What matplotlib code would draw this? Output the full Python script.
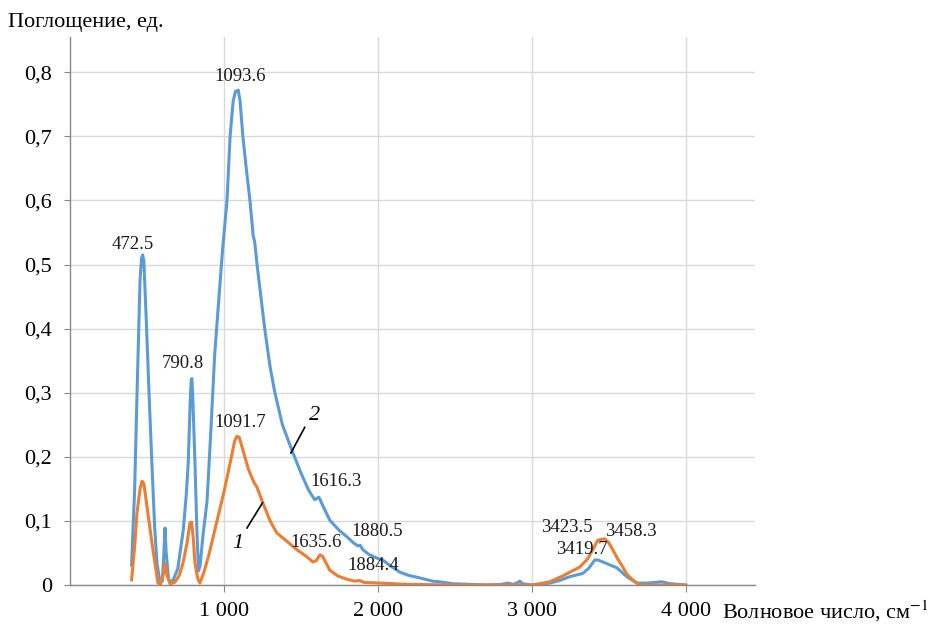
import matplotlib
matplotlib.use("Agg")
import matplotlib.pyplot as plt

plt.rcParams['font.family'] = ['Liberation Serif', 'DejaVu Serif']
plt.rcParams['mathtext.fontset'] = 'stix'

# Curve 2 (blue)
wn2 = [400, 420, 435, 455, 465, 472, 480, 498, 515, 532, 550, 565, 585, 600, 610, 617, 625, 640, 655, 670,
       700, 736, 755, 768, 780, 787, 792, 798, 812, 825, 835, 845, 865, 890, 915, 940, 965, 990, 1020, 1040,
       1060, 1075, 1093, 1105, 1123, 1145, 1169, 1190, 1200, 1215, 1240, 1266, 1300, 1331, 1380, 1442, 1500,
       1550, 1590, 1617, 1640, 1688, 1750, 1800, 1840, 1870, 1885, 1903, 1940, 1993, 2032, 2080, 2143, 2200,
       2273, 2357, 2400, 2487, 2600, 2700, 2800, 2845, 2880, 2910, 2922, 2940, 3000, 3117, 3180, 3247, 3331,
       3370, 3409, 3430, 3461, 3500, 3552, 3617, 3682, 3750, 3844, 3900, 4000]
ab2 = [0.031, 0.15, 0.294, 0.476, 0.51, 0.515, 0.505, 0.398, 0.29, 0.19, 0.09, 0.034, 0.004, 0.006, 0.05,
       0.089, 0.05, 0.01, 0.004, 0.008, 0.025, 0.086, 0.14, 0.19, 0.28, 0.32, 0.322, 0.29, 0.19, 0.08, 0.022,
       0.03, 0.08, 0.13, 0.24, 0.36, 0.44, 0.52, 0.60, 0.70, 0.755, 0.77, 0.772, 0.755, 0.70, 0.65, 0.60,
       0.545, 0.535, 0.50, 0.45, 0.398, 0.34, 0.30, 0.25, 0.21, 0.175, 0.148, 0.133, 0.137, 0.125, 0.101,
       0.085, 0.075, 0.066, 0.061, 0.062, 0.055, 0.048, 0.042, 0.039, 0.03, 0.020, 0.015, 0.011, 0.006,
       0.005, 0.002, 0.001, 0.0, 0.001, 0.003, 0.001, 0.004, 0.006, 0.002, 0.0, 0.003, 0.007, 0.013, 0.018,
       0.026, 0.039, 0.039, 0.036, 0.032, 0.027, 0.013, 0.003, 0.003, 0.005, 0.002, 0.0]

# Curve 1 (orange)
wn1 = [400, 420, 435, 455, 468, 480, 506, 530, 552, 571, 590, 605, 617, 630, 650, 680, 710, 734, 760, 779,
       790, 800, 812, 830, 844, 870, 900, 950, 1000, 1040, 1070, 1084, 1100, 1130, 1160, 1195, 1214, 1253,
       1300, 1344, 1400, 1474, 1539, 1578, 1600, 1623, 1640, 1688, 1740, 1799, 1850, 1883, 1910, 2013, 2100,
       2200, 2500, 3006, 3117, 3200, 3247, 3312, 3360, 3396, 3429, 3474, 3500, 3526, 3560, 3591, 3620, 3656,
       3700, 4000]
ab1 = [0.008, 0.06, 0.112, 0.15, 0.162, 0.158, 0.112, 0.07, 0.034, 0.003, 0.002, 0.015, 0.034, 0.015, 0.002,
       0.004, 0.015, 0.034, 0.065, 0.097, 0.098, 0.075, 0.034, 0.01, 0.003, 0.02, 0.045, 0.095, 0.145, 0.19,
       0.225, 0.232, 0.23, 0.205, 0.18, 0.16, 0.153, 0.128, 0.1, 0.081, 0.07, 0.055, 0.044, 0.036, 0.038,
       0.047, 0.045, 0.023, 0.014, 0.009, 0.006, 0.007, 0.004, 0.003, 0.002, 0.001, 0.0, 0.0, 0.005, 0.014,
       0.02, 0.028, 0.04, 0.055, 0.07, 0.072, 0.066, 0.055, 0.04, 0.028, 0.016, 0.008, 0.0, 0.0]

peak_labels = ["472.5", "790.8", "1093.6", "1091.7", "1616.3", "1635.6", "1880.5", "1884.4",
               "3423.5", "3458.3", "3419.7"]
peak_label_pos = [(409, 0.532), (734, 0.345), (1104, 0.794), (1104, 0.253), (1727, 0.162),
                  (1597, 0.066), (1994, 0.083), (1968, 0.030), (3227, 0.090), (3643, 0.084),
                  (3325, 0.056)]

yticks = [0, 0.1, 0.2, 0.3, 0.4, 0.5, 0.6, 0.7, 0.8]
ytick_labels = ["0", "0,1", "0,2", "0,3", "0,4", "0,5", "0,6", "0,7", "0,8"]
xticks = [1000, 2000, 3000, 4000]
xtick_labels = ["1 000", "2 000", "3 000", "4 000"]

fig = plt.figure(figsize=(9.43, 6.26), dpi=100)
ax = fig.add_axes([70/943, 41/626, 685/943, 548/626])

ax.plot(wn2, ab2, color='#5B9BD5', lw=2.2, solid_joinstyle='round')
ax.plot(wn1, ab1, color='#ED7D31', lw=2.2, solid_joinstyle='round')

ax.set_xlim(0, 4450)
ax.set_ylim(0, 0.855)
ax.set_yticks(yticks)
ax.set_yticklabels(ytick_labels)
ax.set_xticks(xticks)
ax.set_xticklabels(xtick_labels)
ax.tick_params(axis='y', labelsize=16, length=4, color='#888888', pad=9)
ax.tick_params(axis='x', labelsize=16, length=5, color='#888888', pad=7)

ax.grid(True, color='#d9d9d9', lw=1.0)
ax.set_axisbelow(True)
for s in ['top', 'right']:
    ax.spines[s].set_visible(False)
for s in ['left', 'bottom']:
    ax.spines[s].set_color('#888888')
    ax.spines[s].set_linewidth(1.0)

for txt, (px, py) in zip(peak_labels, peak_label_pos):
    ax.text(px, py, txt, fontsize=13.5, ha='center', va='center', color='#1a1a1a')

# curve numbers with leader lines
ax.text(1590, 0.265, "2", fontsize=16, style='italic', ha='center', va='center')
ax.plot([1435, 1525], [0.206, 0.246], color='black', lw=1.2)
ax.text(1090, 0.065, "1", fontsize=16, style='italic', ha='center', va='center')
ax.plot([1150, 1250], [0.089, 0.128], color='black', lw=1.2)

fig.text(8/943, 1 - 22/626, "Поглощение, ед.", fontsize=16, ha='left', va='center')
fig.text(722/943, 1 - 611/626, "Волновое число, см$^{-1}$", fontsize=16, ha='left', va='center')

fig.savefig("out.png", dpi=100)
